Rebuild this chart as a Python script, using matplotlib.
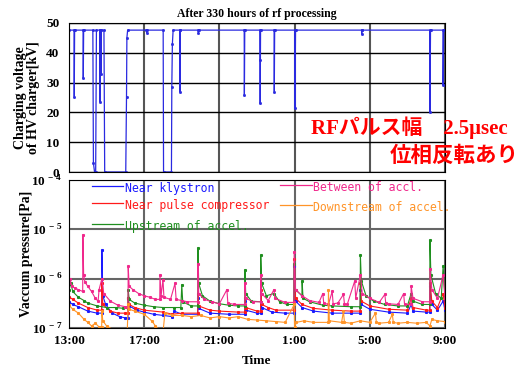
import matplotlib
matplotlib.use("Agg")
import matplotlib.pyplot as plt
import numpy as np

# hours after 13:00
HV_T = [0.00, 0.27, 0.28, 0.30, 0.75, 0.76, 0.78, 1.27, 1.30, 1.36, 1.42, 1.46,
        1.64, 1.65, 1.67, 1.69, 1.70, 1.72, 1.86, 1.90, 3.02, 3.06, 3.08, 3.12,
        4.12, 4.13, 4.15, 5.01, 5.03, 5.45, 5.47, 5.50, 5.54, 5.89, 5.90, 5.92,
        6.87, 6.88, 6.90, 9.32, 9.33, 9.35, 10.15, 10.16, 10.17, 10.19,
        10.91, 10.92, 10.94, 12.01, 12.02, 12.05, 15.56, 15.57, 15.59,
        19.19, 19.20, 19.23, 19.89, 19.90, 19.93, 20.00]
HV_KV = [47.6, 47.6, 25.3, 47.6, 47.6, 31.4, 47.6, 47.6, 3.0, 0.0, 0.0, 47.6,
         47.6, 23.6, 47.6, 47.6, 33.0, 47.6, 47.6, 0.0, 0.0, 25.0, 45.0, 47.6,
         47.6, 46.8, 47.6, 47.6, 0.0, 0.0, 28.6, 43.0, 47.6, 47.6, 27.0, 47.6,
         47.6, 46.8, 47.6, 47.6, 25.8, 47.6, 47.6, 37.6, 23.0, 47.6,
         47.6, 27.0, 47.6, 47.6, 21.4, 47.6, 47.6, 46.3, 47.6,
         47.6, 20.2, 47.6, 47.6, 29.2, 47.6, 47.6]

# vacuum pressure, units of 1e-7 Pa
KLY_T = [0.0, 0.2, 0.5, 1.0, 1.5, 1.74, 1.75, 1.8, 1.95, 2.3, 2.7, 3.0, 3.14, 3.15,
         3.2, 3.6, 4.0, 4.5, 5.0, 5.5, 5.6, 6.0, 6.85, 6.86, 6.9, 7.5, 8.5, 9.35,
         9.36, 9.4, 10.0, 10.19, 10.2, 10.25, 10.8, 11.5, 11.97, 11.98, 12.05, 12.4,
         13.0, 14.0, 15.0, 15.49, 15.5, 15.55, 16.0, 17.0, 18.0, 18.2, 18.3, 19.0,
         19.19, 19.2, 19.3, 19.6, 19.9, 20.0]
KLY_P = [3.4, 3.0, 2.7, 2.2, 2.0, 2.0, 38, 4.5, 3.0, 2.0, 1.7, 1.6, 1.6, 4.0,
         2.8, 2.3, 2.1, 1.9, 1.8, 1.7, 2.2, 1.9, 1.9, 4.0, 2.5, 2.0, 1.9, 1.9,
         3.5, 2.3, 2.0, 2.0, 5.0, 2.6, 2.1, 2.0, 2.0, 18, 3.5, 2.6,
         2.2, 2.0, 2.0, 2.0, 6.0, 3.0, 2.4, 2.1, 2.0, 3.0, 2.2, 2.1,
         2.1, 7.0, 3.0, 2.3, 3.5, 2.3]

PC_T = [0.0, 0.2, 0.5, 1.0, 1.5, 1.74, 1.75, 1.8, 2.2, 2.6, 3.0, 3.14, 3.15, 3.2,
        3.5, 4.0, 5.0, 5.5, 6.0, 6.85, 6.86, 6.9, 7.5, 8.0, 9.0, 9.35, 9.36, 9.4,
        10.0, 10.19, 10.2, 10.25, 10.6, 11.0, 11.97, 11.98, 12.05, 12.4, 13.0,
        14.0, 15.0, 15.49, 15.5, 15.55, 16.0, 17.0, 18.0, 18.2, 18.3, 19.0, 19.19,
        19.2, 19.3, 19.6, 19.9, 20.0]
PC_P = [4.3, 3.8, 3.2, 2.6, 2.3, 2.3, 8.0, 3.0, 2.2, 2.0, 2.0, 2.0, 4.0, 3.0,
        2.6, 2.3, 2.1, 1.9, 2.0, 2.0, 5.0, 2.8, 2.3, 2.2, 2.1, 2.1, 4.0, 2.6,
        2.2, 2.2, 6.0, 3.0, 2.6, 2.3, 2.3, 25, 4.0, 3.0, 2.5,
        2.3, 2.2, 2.2, 8.0, 3.5, 2.8, 2.4, 2.3, 4.0, 2.6, 2.3, 2.3,
        8.0, 3.5, 2.6, 5.0, 2.6]

UP_T = [0.0, 0.1, 0.2, 0.5, 0.8, 1.0, 1.5, 2.0, 2.5, 2.9, 3.14, 3.15, 3.2, 3.5,
        4.0, 4.5, 5.0, 5.6, 5.95, 6.0, 6.05, 6.5, 6.85, 6.86, 6.9, 7.1, 7.5, 8.0,
        8.5, 9.0, 9.35, 9.36, 9.4, 9.7, 10.19, 10.2, 10.25, 10.5, 10.9, 11.2,
        11.6, 11.97, 11.98, 12.05, 12.39, 12.4, 12.45, 12.8, 13.5, 14.0, 15.0,
        15.49, 15.5, 15.55, 15.8, 16.2, 16.8, 17.5, 18.0, 18.2, 18.3, 18.8, 19.19,
        19.2, 19.25, 19.5, 19.8, 19.9, 20.0]
UP_P = [6.0, 8.0, 5.5, 4.2, 3.6, 3.2, 2.8, 2.6, 2.6, 2.5, 2.5, 6.0, 3.8, 3.2,
        2.9, 2.7, 2.6, 2.6, 2.6, 7.5, 3.4, 2.8, 2.8, 42, 8.0, 4.5, 3.5, 3.1,
        2.9, 2.8, 2.8, 15, 5.0, 3.5, 3.4, 30, 8.0, 4.5, 5.0, 3.4,
        3.0, 3.0, 20, 6.0, 4.5, 9.0, 4.0, 3.4, 2.9, 2.8, 2.7,
        2.7, 30, 9.0, 4.5, 3.5, 3.0, 2.8, 2.8, 5.0, 3.5, 3.0, 3.0,
        60, 12, 5.0, 4.0, 18, 4.5]

BT_T = [0.0, 0.05, 0.15, 0.3, 0.5, 0.73, 0.74, 0.78, 0.85, 1.0, 1.2, 1.4, 1.55,
        1.6, 1.75, 1.85, 2.2, 2.6, 3.0, 3.14, 3.15, 3.2, 3.4, 3.7, 4.0, 4.3, 4.6,
        4.83, 4.84, 4.9, 5.0, 5.05, 5.4, 5.64, 5.7, 6.0, 6.3, 6.85, 6.86, 6.9, 7.2,
        7.6, 8.0, 8.4, 8.45, 8.8, 9.35, 9.36, 9.4, 9.8, 10.19, 10.2, 10.25, 10.6,
        10.9, 10.95, 11.5, 11.97, 11.98, 12.05, 12.4, 12.8, 13.3, 13.5, 13.55, 13.8,
        14.0, 14.05, 14.3, 14.6, 14.65, 14.8, 15.2, 15.25, 15.5, 15.6, 16.0, 16.5,
        16.8, 16.85, 17.0, 17.5, 17.8, 17.85, 18.19, 18.2, 18.3, 18.8,
        19.19, 19.2, 19.3, 19.6, 19.9, 20.0]
BT_P = [8.0, 10, 7.0, 6.5, 6.0, 5.5, 77, 12, 8.5, 7.0, 5.5, 4.0, 3.5,
        6.0, 10, 5.0, 3.5, 2.9, 2.7, 2.7, 18, 7.0, 6.0, 5.0, 4.5, 4.2, 3.8,
        3.8, 12, 4.5, 9.6, 4.2, 3.8, 8.0, 3.8, 3.6, 3.4, 3.4, 20, 5.0, 3.8,
        3.4, 3.1, 6.0, 3.2, 3.0, 3.0, 8.0, 4.0, 3.4, 3.4, 12, 5.0, 3.6,
        6.0, 4.0, 3.3, 3.3, 35, 6.0, 4.5, 3.6, 3.3, 5.0, 3.2, 3.0,
        5.5, 3.1, 3.2, 4.8, 3.1, 3.0, 9.0, 4.0, 12, 5.0, 4.0, 3.3,
        4.8, 3.2, 3.1, 3.0, 5.0, 3.0, 3.0, 7.0, 4.0, 3.4,
        3.4, 16, 6.0, 4.0, 12, 4.0]

DN_T = [0.0, 0.2, 0.5, 0.8, 1.0, 1.2, 1.4, 1.6, 1.74, 1.75, 1.8, 2.0, 2.3, 2.6,
        3.0, 3.1, 3.15, 3.2, 3.5, 4.0, 4.4, 4.6, 4.8, 5.0, 5.1, 5.5, 6.0, 6.5,
        7.0, 7.5, 8.0, 8.5, 9.0, 9.5, 10.0, 10.5, 11.0, 11.5, 11.98, 12.0, 12.1,
        12.5, 13.0, 13.79, 13.8, 13.85, 14.5, 14.6, 14.65, 15.0, 15.5, 16.0, 16.3,
        16.35, 16.5, 17.0, 17.2, 17.25, 17.5, 18.0, 18.5, 19.0, 19.2, 19.3, 19.6,
        20.0]
DN_P = [2.9, 2.4, 2.0, 1.5, 1.3, 1.1, 1.25, 1.05, 1.05, 2.2, 1.4, 1.1, 0.95, 0.85,
        0.8, 0.9, 3.0, 2.4, 2.2, 1.9, 1.4, 1.1, 0.9, 0.8, 2.0, 1.8, 1.8, 1.7,
        1.8, 1.6, 1.7, 1.6, 1.7, 1.5, 1.45, 1.4, 1.35, 1.3, 3.0, 1.05, 1.3,
        1.4, 1.3, 1.3, 6.0, 1.4, 1.3, 2.2, 1.3, 1.25, 1.4, 1.3, 2.0,
        1.3, 1.25, 1.3, 1.9, 1.3, 1.25, 1.3, 1.25, 1.3, 1.1, 1.5, 1.4,
        1.35]

TICK_POS = [0, 4, 8, 12, 16, 20]
TICK_LBL = ["13:00", "17:00", "21:00", "1:00", "5:00", "9:00"]

plt.rcParams["font.family"] = ["Liberation Serif", "Noto Sans CJK JP"]
plt.rcParams["font.weight"] = "bold"
plt.rcParams["axes.titleweight"] = "bold"
plt.rcParams["axes.labelweight"] = "bold"
plt.rcParams["mathtext.fontset"] = "custom"
plt.rcParams["mathtext.bf"] = "Liberation Serif:bold"
plt.rcParams["mathtext.rm"] = "Liberation Serif:bold"

fig = plt.figure(figsize=(5.19, 3.68), dpi=100)
ax1 = fig.add_axes([0.1329, 0.5326, 0.7245, 0.405])
ax2 = fig.add_axes([0.1329, 0.1087, 0.7245, 0.4022])

# top panel
ax1.plot(HV_T, HV_KV, color="#2a2ae0", lw=0.9, marker="s", ms=1.0)
ax1.set_xlim(0, 20)
ax1.set_ylim(0, 50)
ax1.set_yticks([0, 10, 20, 30, 40, 50])
ax1.set_xticks(TICK_POS)
ax1.set_xticklabels([])
ax1.grid(axis="y", color="black", lw=1.0)
ax1.grid(axis="x", color="#555555", lw=1.5)
ax1.tick_params(length=0, pad=7, labelsize=9.5)
ax1.set_ylabel("Charging voltage\nof HV charger[kV]", fontsize=10,
               fontweight="bold", labelpad=4, linespacing=1.05)
ax1.set_title("After 330 hours of rf processing", fontsize=8.5,
              fontweight="bold", pad=4)

# bottom panel
series = [
    (KLY_T, KLY_P, "#1a1aff", "Near klystron"),
    (PC_T, PC_P, "#ff1a1a", "Near pulse compressor"),
    (UP_T, UP_P, "#1f8f1f", "Upstream of accel."),
    (BT_T, BT_P, "#f0288c", "Between of accl."),
    (DN_T, DN_P, "#ff9428", "Downstream of accel."),
]
for t, p, c, _ in series:
    ax2.plot(t, np.array(p) * 1e-7, color=c, lw=0.8, marker="s", ms=1.2)
ax2.set_yscale("log")
ax2.set_xlim(0, 20)
ax2.set_ylim(1e-7, 1e-4)
ax2.set_yticks([1e-7, 1e-6, 1e-5, 1e-4])
ax2.set_yticklabels([r"$10^{\,-7}$", r"$10^{\,-6}$", r"$10^{\,-5}$", r"$10^{\,-4}$"])
ax2.minorticks_off()
ax2.set_xticks(TICK_POS)
ax2.set_xticklabels(TICK_LBL)
ax2.grid(color="#666666", lw=1.5)
ax2.tick_params(length=0, pad=5, labelsize=9.5)
ax2.set_ylabel("Vaccum pressure[Pa]", fontsize=10, fontweight="bold", labelpad=-1)
ax2.set_xlabel("Time", fontsize=9.5, fontweight="bold", labelpad=6)

# legend drawn as lines + text in axes coordinates
leg_pos = [(0.062, 0.145, 0.96), (0.062, 0.145, 0.845), (0.062, 0.145, 0.70),
           (0.56, 0.645, 0.965), (0.56, 0.645, 0.83)]
for (x0, x1, y), (_, _, c, name) in zip(leg_pos, series):
    ax2.plot([x0, x1], [y, y], color=c, lw=0.9, transform=ax2.transAxes)
    ax2.text(x1 + 0.005, y - 0.015, name, color=c, fontfamily="DejaVu Sans Mono",
             fontweight="normal", fontsize=8.3, va="center", ha="left",
             transform=ax2.transAxes)

# red annotation
fig.text(0.979, 0.652, "RFパルス幅\u30002.5μsec", color="#ff0000",
         fontsize=15, ha="right", va="center")
fig.text(1.0, 0.578, "位相反転あり", color="#ff0000",
         family=["Noto Sans CJK JP"], fontsize=15.5, ha="right", va="center")

fig.savefig("out.png", dpi=100)
